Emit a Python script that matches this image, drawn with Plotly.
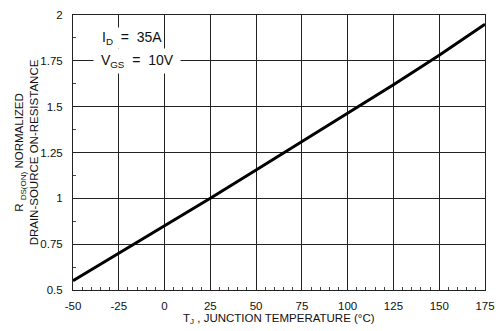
import plotly.graph_objects as go

temps = [-50, -25, 0, 25, 50, 75, 100, 125, 150, 175]
rds_norm = [0.55, 0.70, 0.85, 1.00, 1.155, 1.31, 1.465, 1.62, 1.78, 1.95]

x_ticks = [-50, -25, 0, 25, 50, 75, 100, 125, 150, 175]
x_ticklabels = ["-50", "-25", "0", "25", "50", "75", "100", "125", "150", "175"]
y_ticks = [0.5, 0.75, 1.0, 1.25, 1.5, 1.75, 2.0]
y_ticklabels = ["0.5", "0.75", "1", "1.25", "1.5", "1.75", "2"]

FONT = "Liberation Sans, Arial, sans-serif"

fig = go.Figure()
fig.add_trace(go.Scatter(x=temps, y=rds_norm, mode="lines",
                         line=dict(color="black", width=3), showlegend=False))

fig.update_layout(
    width=504, height=331,
    margin=dict(l=73, r=9, t=10, b=41),
    paper_bgcolor="white", plot_bgcolor="white",
    font=dict(family=FONT, size=11, color="#111"),
    xaxis=dict(range=[-50, 175], tickvals=x_ticks, ticktext=x_ticklabels,
               showgrid=True, gridcolor="#222", gridwidth=1,
               showline=True, linecolor="#222", linewidth=1, mirror=True,
               zeroline=False, ticks="", ticklen=0, ticklabelstandoff=5,
               minor=dict(tickvals=[v for v in range(-45, 175, 5) if v % 25 != 0],
                          ticks="inside", ticklen=3, tickcolor="#444", showgrid=False),
               tickfont=dict(size=11.5)),
    yaxis=dict(range=[0.5, 2.0], tickvals=y_ticks, ticktext=y_ticklabels,
               showgrid=True, gridcolor="#222", gridwidth=1,
               showline=True, linecolor="#222", linewidth=1, mirror=True,
               zeroline=False, ticks="", ticklen=0, ticklabelstandoff=7,
               minor=dict(tickvals=[0.625, 0.875, 1.125, 1.375, 1.625, 1.875],
                          ticks="inside", ticklen=3, tickcolor="#444", showgrid=False),
               tickfont=dict(size=11.5)),
    annotations=[
        dict(text="I<sub>D</sub>  =  35A", x=-35, y=1.877, xref="x", yref="y",
             showarrow=False, xanchor="left", yanchor="middle", bgcolor="white",
             font=dict(size=14, family=FONT, color="#111")),
        dict(text=" V<sub>GS</sub>  =  10V ", x=-39, y=1.75, xref="x", yref="y",
             showarrow=False, xanchor="left", yanchor="middle", bgcolor="white",
             borderpad=3, font=dict(size=14, family=FONT, color="#111")),
        dict(text="T<sub>J</sub> , JUNCTION TEMPERATURE (°C)", x=0.5, y=-0.107,
             xref="paper", yref="paper", showarrow=False, xanchor="center", yanchor="middle",
             font=dict(size=11.5, family=FONT, color="#111")),
        dict(text="R <sub>DS(ON)</sub> NORMALIZED<br>DRAIN-SOURCE ON-RESISTANCE",
             x=-0.112, y=0.5, xref="paper", yref="paper", showarrow=False,
             textangle=-90, xanchor="center", yanchor="middle",
             font=dict(size=11.5, family=FONT, color="#111")),
    ],
)

fig.write_html("out.html")
